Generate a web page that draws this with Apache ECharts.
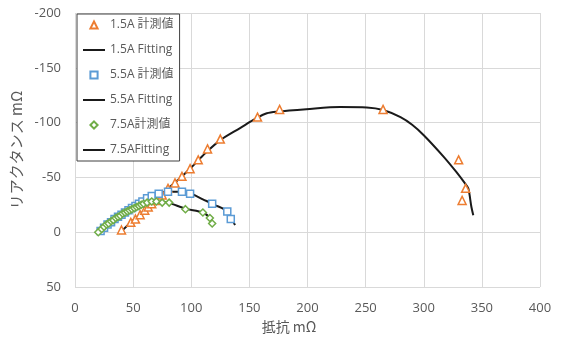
<!DOCTYPE html>
<html><head><meta charset="utf-8">
<script src="https://cdn.jsdelivr.net/npm/echarts@6/dist/echarts.min.js"></script>
<style>html,body{margin:0;padding:0;background:#fff}#c{width:563px;height:340px}</style>
</head><body><div id="c"></div>
<script>
var seriesNames = ['1.5A 計測値','1.5A Fitting','5.5A 計測値','5.5A Fitting','7.5A計測値','7.5AFitting'];
var xTicks = [0,50,100,150,200,250,300,350,400];
var yTicks = [-200,-150,-100,-50,0,50];

var m15 = [[40,-2],[48,-9],[52,-12],[56,-16],[60,-20],[63,-23],[66,-26],[69,-29],[72,-31],[75,-34],[80,-40],[86,-45],[92,-51],[99,-58],[106,-66],[114,-76],[125,-85],[157,-105],[176,-112],[265,-112],[330,-66],[336,-40],[333,-29]];
var f15 = [[40,-1],[50,-11],[60,-20],[70,-30],[80,-40],[90,-49],[100,-59],[112,-72],[125,-84],[142,-95],[156,-104],[165,-108.5],[174,-110],[199,-112.2],[228,-114.2],[251,-113.8],[265,-111.5],[280,-105],[290,-98],[300,-88.5],[317,-69],[328,-55],[335.5,-44.5],[338.3,-40],[341,-23],[342.6,-15.5]];
var m55 = [[22,-1],[25,-4],[28,-7],[31,-9],[34,-12],[37,-14],[40,-16],[43,-18],[46,-20],[49,-22],[52,-24],[55,-26],[58,-28],[62,-31],[66,-33],[72,-35],[80,-37],[92,-37],[99,-35],[118,-26],[131,-19],[134,-12]];
var f55 = [[22,0],[30,-8],[40,-16],[50,-23],[60,-30],[66,-33],[72,-35.5],[80,-37],[92,-37],[99,-35.5],[110,-30],[120,-25],[131,-19],[137.6,-6.5]];
var m75 = [[20,0],[23,-3],[25,-5],[27,-7],[29,-8],[31,-10],[33,-11],[35,-13],[37,-14],[39,-15],[41,-17],[43,-18],[45,-19],[47,-20],[49,-21],[51,-22],[53,-23],[55,-24],[57,-25],[59,-26],[62,-27],[66,-28],[70,-28],[75,-27],[81,-27],[95,-21],[110,-18],[116,-13],[118,-8]];
var f75 = [[20,0],[30,-9],[40,-16],[50,-22],[60,-27],[70,-28.5],[80,-27],[95,-21.5],[110,-18],[116,-13],[119,-7]];

var colors = {o:'#ED7D31', b:'#5B9BD5', g:'#70AD47'};
function meas(name, data, sym, col, size){
  return {name:name, type:'line', data:data, symbol:sym, symbolSize:size, showAllSymbol:true,
    lineStyle:{width:0, opacity:0}, itemStyle:{color:'#fff', borderColor:col, borderWidth:1.5},
    emphasis:{disabled:true}, animation:false, z:3};
}
function fit(name, data){
  return {name:name, type:'line', data:data, symbol:'none', smooth:0.3,
    lineStyle:{color:'#1a1a1a', width:2}, itemStyle:{color:'#1a1a1a'},
    emphasis:{disabled:true}, animation:false, z:2};
}
var lineIcon = 'path://M0,0 L22,0 L22,2 L0,2 Z';
var chart = echarts.init(document.getElementById('c'), null, {renderer:'canvas'});
var txt = '#595959';
chart.setOption({
  animation:false,
  grid:{left:75, right:23, top:13, bottom:53},
  legend:{
    orient:'vertical', left:77, top:14, padding:[5,6,5,6],
    itemWidth:22, itemHeight:9, itemGap:13,
    backgroundColor:'#fff', borderColor:'#404040', borderWidth:1,
    textStyle:{color:txt, fontSize:12, fontFamily:'"Open Sans","Noto Sans CJK JP",sans-serif'},
    data:[
      {name:seriesNames[0], lineStyle:{width:0, opacity:0}},
      {name:seriesNames[1], icon:lineIcon, itemStyle:{color:'#1a1a1a', borderWidth:0}},
      {name:seriesNames[2], lineStyle:{width:0, opacity:0}},
      {name:seriesNames[3], icon:lineIcon, itemStyle:{color:'#1a1a1a', borderWidth:0}},
      {name:seriesNames[4], lineStyle:{width:0, opacity:0}},
      {name:seriesNames[5], icon:lineIcon, itemStyle:{color:'#1a1a1a', borderWidth:0}}
    ]
  },
  xAxis:{type:'value', min:xTicks[0], max:xTicks[xTicks.length-1], interval:50,
    name:'抵抗 mΩ', nameLocation:'middle', nameGap:30,
    nameTextStyle:{color:txt, fontSize:14, padding:[0,37,0,0], fontFamily:'"Noto Sans CJK JP",sans-serif'},
    axisLine:{show:false}, axisTick:{show:false},
    axisLabel:{color:txt, fontSize:13, margin:15, fontFamily:'"Open Sans",sans-serif'},
    splitLine:{show:true, lineStyle:{color:'#d9d9d9', width:1}}},
  yAxis:{type:'value', inverse:true, min:yTicks[0], max:yTicks[yTicks.length-1], interval:50,
    name:'リアクタンス mΩ', nameLocation:'middle', nameGap:48, nameRotate:90,
    nameTextStyle:{color:txt, fontSize:15, fontFamily:'"Noto Sans CJK JP",sans-serif'},
    axisLine:{show:false}, axisTick:{show:false},
    axisLabel:{color:txt, fontSize:13, margin:14, fontFamily:'"Open Sans",sans-serif'},
    splitLine:{show:true, lineStyle:{color:'#d9d9d9', width:1}}},
  series:[
    meas(seriesNames[0], m15, 'triangle', colors.o, 8),
    fit(seriesNames[1], f15),
    meas(seriesNames[2], m55, 'rect', colors.b, 7),
    fit(seriesNames[3], f55),
    meas(seriesNames[4], m75, 'diamond', colors.g, 7),
    fit(seriesNames[5], f75)
  ]
});
</script></body></html>
